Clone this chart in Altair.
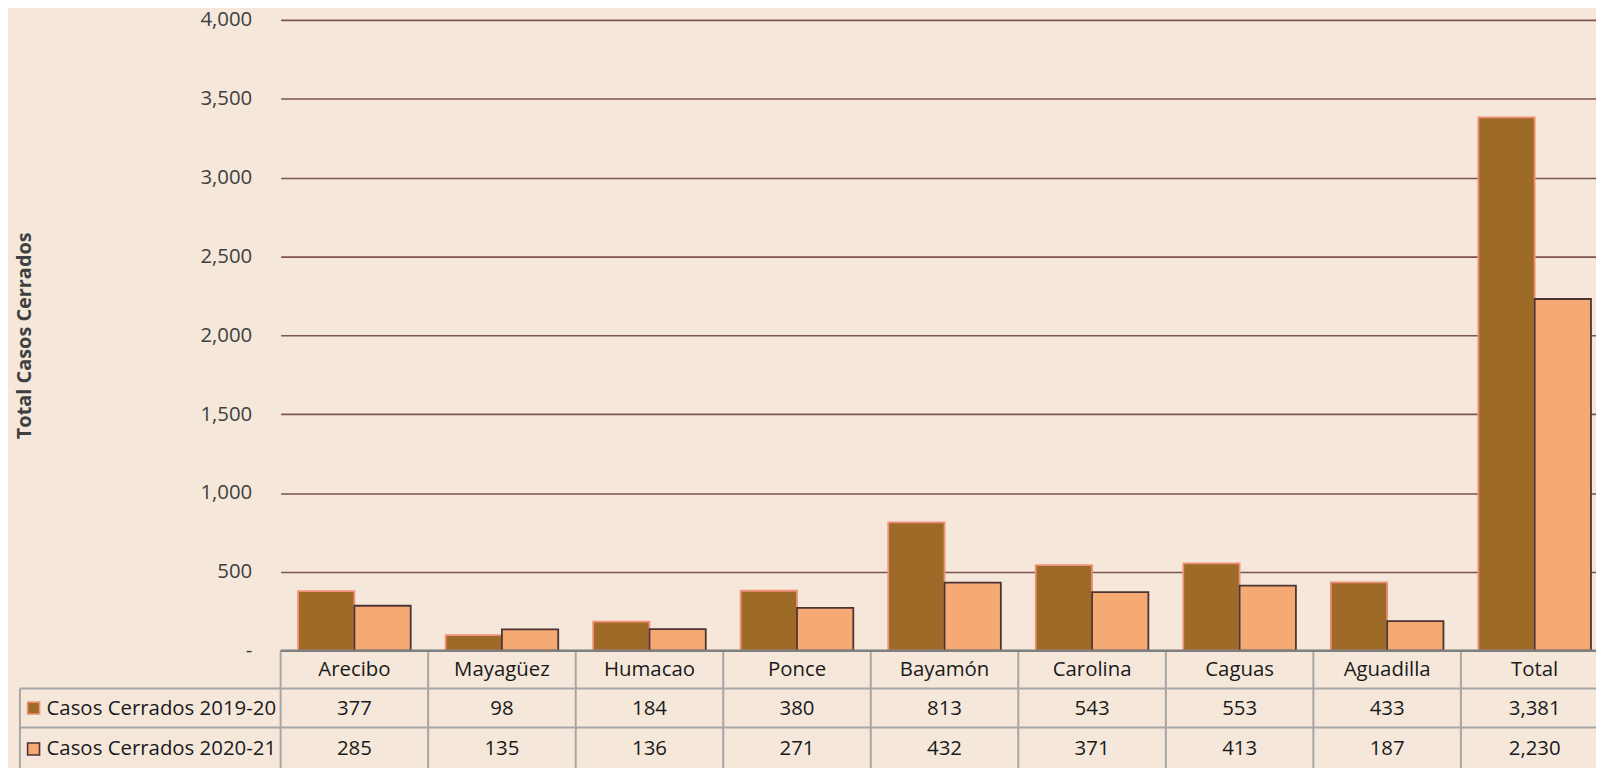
import altair as alt
import pandas as pd

categories = ["Arecibo", "Mayagüez", "Humacao", "Ponce", "Bayamón",
              "Carolina", "Caguas", "Aguadilla", "Total"]
series_names = ["Casos Cerrados 2019-20", "Casos Cerrados 2020-21"]
cerrados_2019_20 = [377, 98, 184, 380, 813, 543, 553, 433, 3381]
cerrados_2020_21 = [285, 135, 136, 271, 432, 371, 413, 187, 2230]
y_ticks = [0, 500, 1000, 1500, 2000, 2500, 3000, 3500, 4000]
y_title = "Total  Casos  Cerrados"

wide = pd.DataFrame({"cat": categories, "v1": cerrados_2019_20, "v2": cerrados_2020_21})
long = pd.DataFrame({
    "cat": categories * 2,
    "series": [series_names[0]] * len(categories) + [series_names[1]] * len(categories),
    "value": cerrados_2019_20 + cerrados_2020_21,
})
ser = pd.DataFrame({"series": series_names})
one = pd.DataFrame({"k": [0]})

BG = "#F5E8DA"
FILL = ["#9E6A28", "#F4AA72"]
EDGE = ["#F0907A", "#4D3333"]
GRID = "#7D5252"
TLINE = "#A6A6A6"
TEXT = "#1A1A1A"
FONT = "Open Sans"
FS = 20.5

W, H = 1322, 634
XR = 1334.5
BOTTOM = 752

x_scale = alt.Scale(domain=categories, range=[0, XR], paddingInner=0, paddingOuter=0)

bars = alt.Chart(long).mark_bar(strokeWidth=1.8).encode(
    x=alt.X("cat:N", scale=x_scale, axis=None, sort=categories),
    xOffset=alt.XOffset("series:N", scale=alt.Scale(domain=series_names, paddingInner=0, paddingOuter=0.31)),
    y=alt.Y("value:Q", scale=alt.Scale(domain=[0, 4000], nice=False),
            axis=alt.Axis(values=y_ticks, domain=False, ticks=False, grid=True,
                          gridColor=GRID, gridWidth=1.6,
                          labelExpr="datum.value === 0 ? '-\u00a0\u00a0\u00a0\u00a0' : format(datum.value, ',')",
                          labelFont=FONT, labelFontSize=FS, labelColor="#404040", labelPadding=29,
                          title=y_title, titleFont=FONT, titleFontSize=20, titleFontWeight="bold",
                          titleColor="#404040", titleX=-257, titleY=H / 2, titleAngle=-90,
                          titleAlign="center", titleBaseline="middle")),
    fill=alt.Fill("series:N", scale=alt.Scale(domain=series_names, range=FILL), legend=None),
    stroke=alt.Stroke("series:N", scale=alt.Scale(domain=series_names, range=EDGE), legend=None),
)

vlines = alt.Chart(wide).mark_rule(color=TLINE, strokeWidth=2).encode(
    x=alt.X("cat:N", bandPosition=0, scale=x_scale, axis=None, sort=categories),
    y=alt.value(H), y2=alt.value(BOTTOM),
)
left_border = alt.Chart(one).mark_rule(color=TLINE, strokeWidth=2).encode(
    x=alt.value(-262), y=alt.value(672), y2=alt.value(BOTTOM))
hline1 = alt.Chart(one).mark_rule(color=TLINE, strokeWidth=2).encode(
    x=alt.value(-262), x2=alt.value(W), y=alt.value(672))
hline2 = alt.Chart(one).mark_rule(color=TLINE, strokeWidth=2).encode(
    x=alt.value(-262), x2=alt.value(W), y=alt.value(711.3))
top_line = alt.Chart(one).mark_rule(color="#7F7F7F", strokeWidth=2.5).encode(
    x=alt.value(0), x2=alt.value(W), y=alt.value(H))

header = alt.Chart(wide).mark_text(font=FONT, fontSize=FS, color=TEXT, baseline="middle").encode(
    x=alt.X("cat:N", scale=x_scale, axis=None, sort=categories),
    y=alt.value(653.5), text="cat:N")
row1 = alt.Chart(wide).mark_text(font=FONT, fontSize=FS, color=TEXT, baseline="middle").encode(
    x=alt.X("cat:N", scale=x_scale, axis=None, sort=categories),
    y=alt.value(693), text=alt.Text("v1:Q", format=","))
row2 = alt.Chart(wide).mark_text(font=FONT, fontSize=FS, color=TEXT, baseline="middle").encode(
    x=alt.X("cat:N", scale=x_scale, axis=None, sort=categories),
    y=alt.value(732.5), text=alt.Text("v2:Q", format=","))

lab1 = alt.Chart(ser).transform_filter(alt.datum.series == series_names[0]).mark_text(
    font=FONT, fontSize=FS, color=TEXT, align="left", baseline="middle").encode(
    x=alt.value(-235.3), y=alt.value(693), text="series:N")
lab2 = alt.Chart(ser).transform_filter(alt.datum.series == series_names[1]).mark_text(
    font=FONT, fontSize=FS, color=TEXT, align="left", baseline="middle").encode(
    x=alt.value(-235.3), y=alt.value(732.5), text="series:N")
sq1 = alt.Chart(one).mark_square(size=144, opacity=1, fill=FILL[0], stroke=EDGE[0], strokeWidth=1.6).encode(
    x=alt.value(-248.3), y=alt.value(691.7))
sq2 = alt.Chart(one).mark_square(size=144, opacity=1, fill=FILL[1], stroke=EDGE[1], strokeWidth=1.6).encode(
    x=alt.value(-248.3), y=alt.value(732.8))

chart = alt.layer(
    bars, vlines, left_border, hline1, hline2, top_line,
    header, row1, row2, lab1, lab2, sq1, sq2
).properties(
    width=W, height=H,
    background=BG,
    padding={"left": 274, "top": 10, "right": 0, "bottom": 760 - 10 - H},
    autosize=alt.AutoSizeParams(type="none"),
).configure_view(strokeWidth=0)

chart.save("out.html", embed_options={"renderer": "svg", "actions": False})
